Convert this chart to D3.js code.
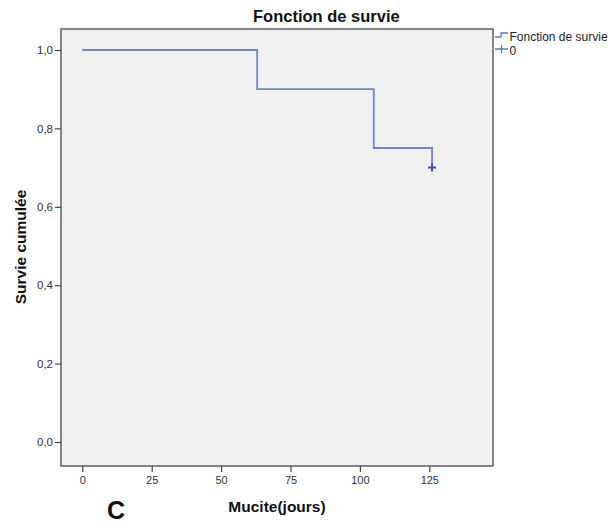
<!DOCTYPE html>
<html>
<head>
<meta charset="utf-8">
<script src="https://cdn.jsdelivr.net/npm/d3@7/dist/d3.min.js"></script>
<style>
  html, body { margin: 0; padding: 0; background: #fff; }
  svg { display: block; font-family: Arial, "Liberation Sans", sans-serif; }
</style>
</head>
<body>
<svg id="chart" width="612" height="524"></svg>
<script>
// Kaplan-Meier steps: event times and cumulative survival after each step
const stepTimes = [0, 63, 105, 126];
const stepSurvival = [1.0, 0.9, 0.75, 0.7];
// Censored observations
const censorTimes = [126];
const censorSurvival = [0.7];
// Axis ticks
const xTicks = [0, 25, 50, 75, 100, 125];
const yTicks = [0.0, 0.2, 0.4, 0.6, 0.8, 1.0];

const svg = d3.select("#chart");
const box = { left: 61, top: 29, right: 493, bottom: 466 };

const x = d3.scaleLinear().domain([0, 125]).range([82.3, 429.3]);
const y = d3.scaleLinear().domain([0, 1]).range([442, 50]);

// plot background
svg.append("rect")
  .attr("x", box.left).attr("y", box.top)
  .attr("width", box.right - box.left).attr("height", box.bottom - box.top)
  .attr("fill", "#f0f0f0")
  .attr("stroke", "#555").attr("stroke-width", 1.4);

const fmt = d => d3.format(".1f")(d).replace(".", ",");

// y axis
const yAxis = svg.append("g")
  .attr("transform", `translate(${box.left},0)`)
  .call(d3.axisLeft(y).tickValues(yTicks).tickFormat(fmt).tickSize(6).tickPadding(2));
yAxis.select(".domain").remove();
yAxis.selectAll(".tick line").attr("stroke", "#444").attr("stroke-width", 1.2);
yAxis.selectAll(".tick text").attr("fill", "#333").style("font-size", "11.5px")
  .style("font-family", "Arial, 'Liberation Sans', sans-serif");

// x axis
const xAxis = svg.append("g")
  .attr("transform", `translate(0,${box.bottom})`)
  .call(d3.axisBottom(x).tickValues(xTicks).tickFormat(d3.format("d")).tickSize(6).tickPadding(4));
xAxis.select(".domain").remove();
xAxis.selectAll(".tick line").attr("stroke", "#444").attr("stroke-width", 1.2);
xAxis.selectAll(".tick text").attr("fill", "#333").style("font-size", "11px")
  .style("font-family", "Arial, 'Liberation Sans', sans-serif");

// survival step curve
const pts = stepTimes.map((t, i) => [t, stepSurvival[i]]);
pts.push([censorTimes[censorTimes.length - 1], stepSurvival[stepSurvival.length - 1]]);
const line = d3.line().x(d => x(d[0])).y(d => y(d[1])).curve(d3.curveStepAfter);
svg.append("path")
  .datum(pts)
  .attr("d", line)
  .attr("fill", "none")
  .attr("stroke", "#6478c8")
  .attr("stroke-width", 1.8)
  .attr("stroke-opacity", 0.9);

// censor marks
censorTimes.forEach((t, i) => {
  const cx = x(t), cy = y(censorSurvival[i]);
  svg.append("path")
    .attr("d", `M${cx - 4},${cy}H${cx + 4}M${cx},${cy - 4}V${cy + 4}`)
    .attr("stroke", "#3c50a8").attr("stroke-width", 2).attr("fill", "none");
});

// title
svg.append("text")
  .attr("x", 253).attr("y", 22)
  .attr("font-size", 16.5).attr("font-weight", "bold").attr("fill", "#111")
  .text("Fonction de survie");

// axis titles
svg.append("text")
  .attr("x", 277).attr("y", 512).attr("text-anchor", "middle")
  .attr("font-size", 15.5).attr("font-weight", "bold").attr("fill", "#111")
  .text("Mucite(jours)");
svg.append("text")
  .attr("transform", "translate(26,247) rotate(-90)").attr("text-anchor", "middle")
  .attr("font-size", 15.5).attr("font-weight", "bold").attr("fill", "#111")
  .text("Survie cumulée");

// panel letter
svg.append("text")
  .attr("x", 107).attr("y", 519)
  .attr("font-size", 25).attr("font-weight", "bold").attr("fill", "#111")
  .text("C");

// legend
const lg = svg.append("g").attr("transform", "translate(495,0)");
lg.append("path").attr("d", "M0,37H6V33H13")
  .attr("fill", "none").attr("stroke", "#6478c8").attr("stroke-width", 1.3);
lg.append("text").attr("x", 14.5).attr("y", 40.5).attr("font-size", 12).attr("fill", "#222")
  .text("Fonction de survie");
lg.append("path").attr("d", "M0,49H13M6.5,45V53")
  .attr("fill", "none").attr("stroke", "#6478c8").attr("stroke-width", 1.3);
lg.append("text").attr("x", 14.5).attr("y", 54.5).attr("font-size", 12).attr("fill", "#222")
  .text("0");
</script>
</body>
</html>
